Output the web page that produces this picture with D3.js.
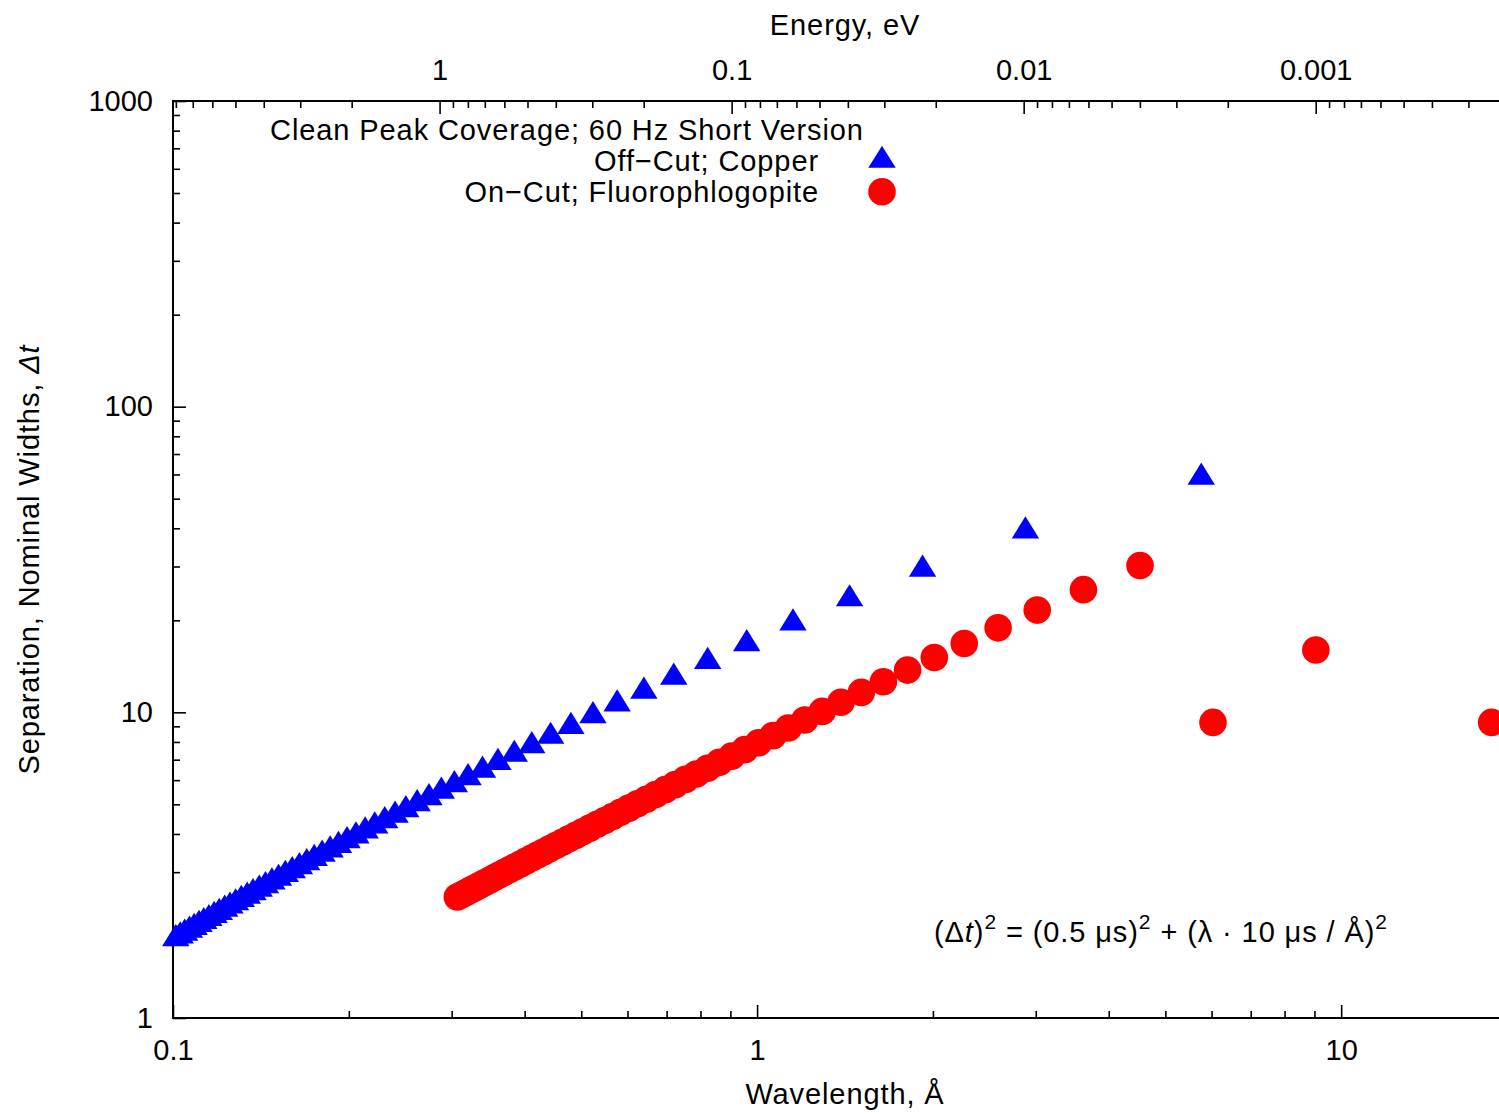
<!DOCTYPE html>
<html>
<head>
<meta charset="utf-8">
<script src="https://cdn.jsdelivr.net/npm/d3@7/dist/d3.min.js"></script>
<style>
  html, body { margin: 0; padding: 0; background: #fff; }
  svg { display: block; font-family: 'Liberation Sans', Arial, Helvetica, sans-serif; }
  .axis text { font-size: 29px; fill: #000; font-family: 'Liberation Sans', Arial, sans-serif; }
  .axis path.domain { display: none; }
  .axis line { stroke: #000; stroke-width: 1.6; }
  .lbl { font-size: 29px; letter-spacing: 0.9px; }
</style>
</head>
<body>
<svg id="chart" width="1499" height="1115"></svg>
<script>
// ---------------- Data ----------------
// Off-Cut; Copper (blue triangles): wavelength (Å) and separation in nominal widths
const copperLambda = [5.76, 2.88, 1.92, 1.44, 1.152, 0.96, 0.823, 0.72, 0.64, 0.576,
  0.5236, 0.48, 0.4431, 0.4114, 0.384, 0.36, 0.3388, 0.32, 0.3032, 0.288,
  0.2743, 0.2618, 0.2504, 0.24, 0.2304, 0.2215, 0.2133, 0.2057, 0.1986, 0.192,
  0.1858, 0.18, 0.1745, 0.1694, 0.1646, 0.16, 0.1557, 0.1516, 0.1477, 0.144,
  0.1405, 0.1371, 0.134, 0.1309, 0.128, 0.1252, 0.1226, 0.12, 0.1176, 0.1152,
  0.1129, 0.1108, 0.1087, 0.1067, 0.1047, 0.1029, 0.1011];
const copperSep = [58.5, 39.0, 29.25, 23.4, 19.5, 16.69, 14.6, 12.97, 11.66, 10.60,
  9.706, 8.951, 8.304, 7.743, 7.251, 6.817, 6.430, 6.084, 5.772, 5.489,
  5.232, 4.996, 4.780, 4.582, 4.397, 4.227, 4.069, 3.920, 3.782, 3.652,
  3.530, 3.415, 3.308, 3.206, 3.110, 3.018, 2.932, 2.849, 2.771, 2.696,
  2.625, 2.556, 2.491, 2.429, 2.369, 2.312, 2.257, 2.204, 2.154, 2.104,
  2.057, 2.012, 1.969, 1.927, 1.886, 1.846, 1.808];

// On-Cut; Fluorophlogopite (red circles)
const fluoroLambda = [18.1, 9.05, 6.033, 4.525, 3.62, 3.017, 2.586, 2.263, 2.011, 1.81,
  1.645, 1.508, 1.392, 1.293, 1.207, 1.131, 1.065, 1.006, 0.9526, 0.905,
  0.8619, 0.8227, 0.787, 0.7542, 0.724, 0.6962, 0.6704, 0.6464, 0.6241, 0.6033,
  0.5839, 0.5656, 0.5485, 0.5324, 0.5171, 0.5028, 0.4892, 0.4763, 0.4641, 0.4525,
  0.4415, 0.431, 0.4209, 0.4114, 0.4022, 0.3935, 0.3851, 0.3771, 0.3694, 0.362,
  0.3549, 0.3481, 0.3415, 0.3352, 0.3291, 0.3232, 0.3175, 0.3121, 0.3068];
const fluoroSep = [9.27, 16.0, 9.27, 30.24, 25.2, 21.6, 18.9, 16.8, 15.12, 13.745,
  12.59, 11.62, 10.79, 10.07, 9.442, 8.885, 8.391, 7.948, 7.550, 7.189,
  6.861, 6.562, 6.287, 6.035, 5.801, 5.586, 5.385, 5.198, 5.024, 4.860,
  4.708, 4.564, 4.429, 4.301, 4.180, 4.066, 3.958, 3.856, 3.758, 3.666,
  3.577, 3.493, 3.412, 3.335, 3.262, 3.191, 3.124, 3.059, 2.997, 2.937,
  2.880, 2.824, 2.770, 2.719, 2.669, 2.622, 2.575, 2.531, 2.487];

// Tick labels
const wavelengthTicks = [0.1, 1, 10];
const separationTicks = [1, 10, 100, 1000];
const energyTicks = [1, 0.1, 0.01, 0.001];
const energyTickLabels = ["1", "0.1", "0.01", "0.001"];

const legendTitle = "Clean Peak Coverage; 60 Hz Short Version";
const seriesNames = ["Off\u2212Cut; Copper", "On\u2212Cut; Fluorophlogopite"];

// ---------------- Layout ----------------
const svg = d3.select("#chart");
const L = 173, R = 1517, T = 101, B = 1018;
const lambdaMin = 0.1, lambdaMax = 20;
const EK = 0.08181; // E(eV) = EK / λ²

const x = d3.scaleLog().domain([lambdaMin, lambdaMax]).range([L, R]);
const y = d3.scaleLog().domain([1, 1000]).range([B, T]);
const xE = d3.scaleLog().domain([EK / (lambdaMin * lambdaMin), EK / (lambdaMax * lambdaMax)]).range([L, R]);

function minorTicks(lo, hi) {
  const out = [];
  for (let e = -5; e <= 3; e++) {
    for (let m = 2; m <= 9; m++) {
      const v = m * Math.pow(10, e);
      if (v > lo && v < hi) out.push(v);
    }
  }
  return out;
}

const MAJ = 13, MIN = 7;

// bottom axis
svg.append("g").attr("class", "axis").attr("transform", `translate(0,${B})`)
  .call(d3.axisBottom(x).tickValues(minorTicks(lambdaMin, lambdaMax)).tickSize(-MIN).tickFormat(""));
svg.append("g").attr("class", "axis").attr("transform", `translate(0,${B})`)
  .call(d3.axisBottom(x).tickValues(wavelengthTicks).tickSizeInner(-MAJ).tickSizeOuter(0).tickPadding(21)
    .tickFormat(d => d3.format("~g")(d)));

// left axis
svg.append("g").attr("class", "axis").attr("transform", `translate(${L},0)`)
  .call(d3.axisLeft(y).tickValues(minorTicks(1, 1000)).tickSize(-MIN).tickFormat(""));
svg.append("g").attr("class", "axis").attr("transform", `translate(${L},0)`)
  .call(d3.axisLeft(y).tickValues(separationTicks).tickSizeInner(-MAJ).tickSizeOuter(0).tickPadding(20)
    .tickFormat(d => d3.format("~g")(d)));

// top axis (energy)
const eLo = EK / (lambdaMax * lambdaMax), eHi = EK / (lambdaMin * lambdaMin);
svg.append("g").attr("class", "axis").attr("transform", `translate(0,${T})`)
  .call(d3.axisTop(xE).tickValues(minorTicks(eLo, eHi)).tickSize(-MIN).tickFormat(""));
svg.append("g").attr("class", "axis").attr("transform", `translate(0,${T})`)
  .call(d3.axisTop(xE).tickValues(energyTicks).tickSizeInner(-MAJ).tickSizeOuter(0).tickPadding(21)
    .tickFormat((d, i) => energyTickLabels[i]));

// frame
svg.append("rect").attr("x", L).attr("y", T).attr("width", R - L).attr("height", B - T)
  .attr("fill", "none").attr("stroke", "#000").attr("stroke-width", 2);

// axis titles
svg.append("text").attr("class", "lbl").attr("x", (L + R) / 2).attr("y", 1104).attr("text-anchor", "middle")
  .text("Wavelength, \u00C5");
svg.append("text").attr("class", "lbl").attr("x", (L + R) / 2).attr("y", 35).attr("text-anchor", "middle")
  .text("Energy, eV");
const yl = svg.append("text").attr("class", "lbl").attr("transform", `translate(39,${(T + B) / 2}) rotate(-90)`)
  .attr("text-anchor", "middle");
yl.append("tspan").text("Separation, Nominal Widths, ");
yl.append("tspan").attr("font-style", "italic").text("\u0394t");

// data points
const clip = svg.append("clipPath").attr("id", "plotclip");
clip.append("rect").attr("x", L - 20).attr("y", T).attr("width", R - L + 40).attr("height", B - T + 20);

const V = 13.7;
const triPath = `M0,${-1.12 * V} L${-V},${0.5 * V} L${V},${0.5 * V} Z`;

const gPts = svg.append("g").attr("clip-path", "url(#plotclip)");
gPts.selectAll("path.cu").data(copperLambda.map((l, i) => [l, copperSep[i]]))
  .enter().append("path").attr("class", "cu")
  .attr("d", triPath)
  .attr("transform", d => `translate(${x(d[0])},${y(d[1])})`)
  .attr("fill", "#0000ff");

gPts.selectAll("circle.fp").data(fluoroLambda.map((l, i) => [l, fluoroSep[i]]))
  .enter().append("circle").attr("class", "fp")
  .attr("cx", d => x(d[0])).attr("cy", d => y(d[1])).attr("r", 13.8)
  .attr("fill", "#ff0000");

// legend
svg.append("text").attr("class", "lbl").attr("x", 567).attr("y", 140).attr("text-anchor", "middle")
  .text(legendTitle);
svg.append("text").attr("class", "lbl").attr("x", 819).attr("y", 171).attr("text-anchor", "end")
  .text(seriesNames[0]);
svg.append("text").attr("class", "lbl").attr("x", 819).attr("y", 202).attr("text-anchor", "end")
  .text(seriesNames[1]);
svg.append("path").attr("d", triPath).attr("transform", "translate(882,161)").attr("fill", "#0000ff");
svg.append("circle").attr("cx", 882).attr("cy", 191.7).attr("r", 13.8).attr("fill", "#ff0000");

// formula annotation
const f = svg.append("text").attr("class", "lbl").attr("x", 934).attr("y", 942);
f.append("tspan").text("(\u0394");
f.append("tspan").attr("font-style", "italic").text("t");
f.append("tspan").text(")");
f.append("tspan").attr("dy", -13).attr("font-size", 21).text("2");
f.append("tspan").attr("dy", 13).text(" = (0.5 \u03BCs)");
f.append("tspan").attr("dy", -13).attr("font-size", 21).text("2");
f.append("tspan").attr("dy", 13).text(" + (\u03BB \u00B7 10 \u03BCs / \u00C5)");
f.append("tspan").attr("dy", -13).attr("font-size", 21).text("2");
</script>
</body>
</html>
